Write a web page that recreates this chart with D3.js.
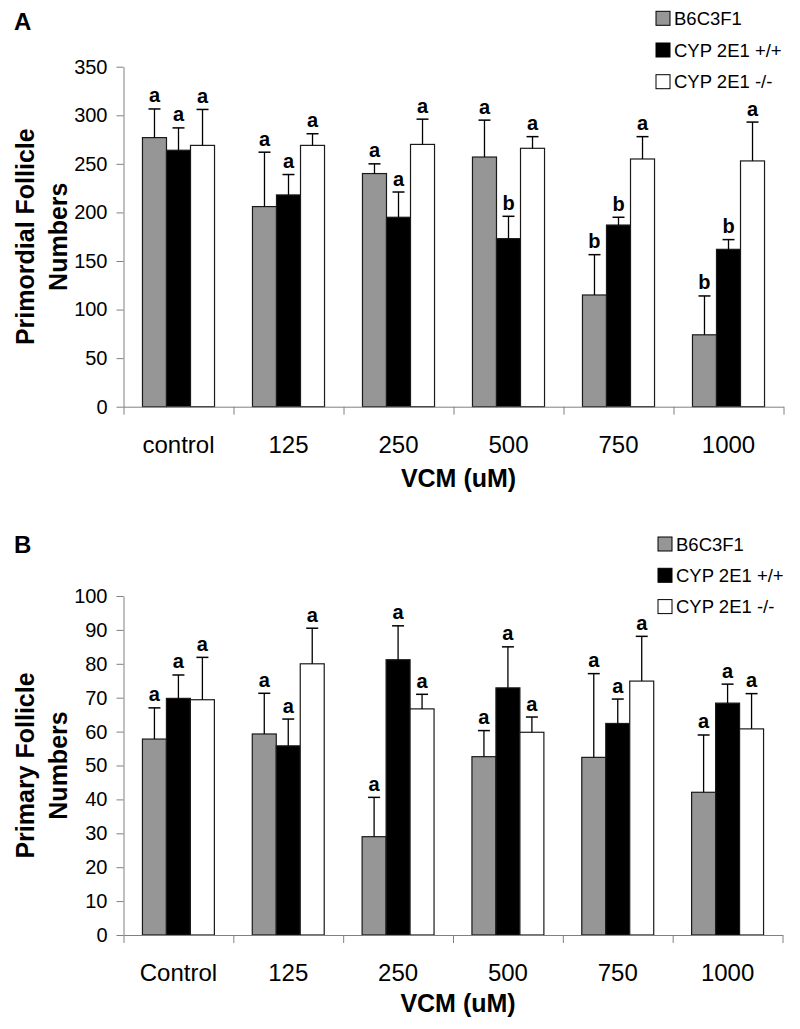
<!DOCTYPE html>
<html>
<head>
<meta charset="utf-8">
<script src="https://cdn.jsdelivr.net/npm/d3@7"></script>
<style>
  body { margin: 0; background: #fff; }
  svg text { font-family: "Liberation Sans", Arial, sans-serif; }
</style>
</head>
<body>
<div id="chart"></div>
<script>
// ---- data ----
var strains = ["B6C3F1", "CYP 2E1 +/+", "CYP 2E1 -/-"];

var dosesA = ["control", "125", "250", "500", "750", "1000"];
var primordialB6 = [277, 206, 240, 257, 115, 74];
var primordialWT = [264, 218, 195, 173, 187, 162];
var primordialKO = [269, 269, 270, 266, 255, 253];
var primordialB6Sd = [29.5, 56, 10, 38, 41.5, 40];
var primordialWTSd = [23, 21, 26, 23, 8, 10];
var primordialKOSd = [37, 12, 26, 12, 23, 40];
var primordialB6Sig = ["a", "a", "a", "a", "b", "b"];
var primordialWTSig = ["a", "a", "a", "b", "b", "b"];
var primordialKOSig = ["a", "a", "a", "a", "a", "a"];
var primordialTicks = [0, 50, 100, 150, 200, 250, 300, 350];

var dosesB = ["Control", "125", "250", "500", "750", "1000"];
var primaryB6 = [57.8, 59.3, 29, 52.6, 52.4, 42.1];
var primaryWT = [69.8, 55.8, 81.2, 72.9, 62.4, 68.4];
var primaryKO = [69.4, 80, 66.7, 59.8, 74.9, 60.8];
var primaryB6Sd = [9.2, 12, 11.6, 7.7, 24.7, 16.9];
var primaryWTSd = [6.9, 7.9, 10, 12.1, 7.2, 5.6];
var primaryKOSd = [12.5, 10.5, 4.3, 4.5, 13.2, 10.4];
var primaryB6Sig = ["a", "a", "a", "a", "a", "a"];
var primaryWTSig = ["a", "a", "a", "a", "a", "a"];
var primaryKOSig = ["a", "a", "a", "a", "a", "a"];
var primaryTicks = [0, 10, 20, 30, 40, 50, 60, 70, 80, 90, 100];

var fills = ["#969696", "#000000", "#ffffff"];

var svg = d3.select("#chart").append("svg")
    .attr("width", 800)
    .attr("height", 1029);

function drawPanel(p) {
    var g = svg.append("g");

    var x = d3.scaleBand().domain(p.doses).range([p.left, p.right]).padding(0);
    var bw = x.bandwidth();
    var groupW = bw * 0.655;
    var xs = d3.scaleBand().domain(strains)
        .range([(bw - groupW) / 2, (bw + groupW) / 2]).padding(0);
    var y = d3.scaleLinear().domain([0, p.ticks[p.ticks.length - 1]])
        .range([p.bottom, p.top]);

    // y axis
    var ya = g.append("g")
        .attr("transform", "translate(" + p.left + ",0)")
        .call(d3.axisLeft(y).tickValues(p.ticks).tickSize(7).tickSizeOuter(0).tickPadding(9));
    ya.select(".domain").attr("stroke", "#808080");
    ya.selectAll(".tick line").attr("stroke", "#808080");
    ya.selectAll(".tick text")
        .attr("font-size", 20)
        .attr("fill", "#000")
        .attr("font-family", "Liberation Sans, Arial, sans-serif");

    // bars
    var rows = p.doses.map(function(d, i) {
        return p.series.map(function(s, j) {
            return { dose: d, strain: strains[j], v: s.mean[i], sd: s.sd[i], sig: s.sig[i], k: j };
        });
    });
    var grp = g.selectAll("g.grp").data(rows).enter().append("g")
        .attr("class", "grp")
        .attr("transform", function(r) { return "translate(" + x(r[0].dose) + ",0)"; });

    grp.selectAll("rect").data(function(r) { return r; }).enter().append("rect")
        .attr("x", function(d) { return xs(d.strain); })
        .attr("y", function(d) { return y(d.v); })
        .attr("width", xs.bandwidth())
        .attr("height", function(d) { return y(0) - y(d.v); })
        .attr("fill", function(d) { return fills[d.k]; })
        .attr("stroke", "#1a1a1a")
        .attr("stroke-width", 1.2);

    // error bars (upper only)
    var eb = grp.selectAll("g.err").data(function(r) { return r; }).enter().append("g")
        .attr("class", "err");
    eb.append("line")
        .attr("x1", function(d) { return xs(d.strain) + xs.bandwidth() / 2; })
        .attr("x2", function(d) { return xs(d.strain) + xs.bandwidth() / 2; })
        .attr("y1", function(d) { return y(d.v); })
        .attr("y2", function(d) { return y(d.v + d.sd); })
        .attr("stroke", "#000").attr("stroke-width", 1.3);
    eb.append("line")
        .attr("x1", function(d) { return xs(d.strain) + xs.bandwidth() / 2 - 6; })
        .attr("x2", function(d) { return xs(d.strain) + xs.bandwidth() / 2 + 6; })
        .attr("y1", function(d) { return y(d.v + d.sd); })
        .attr("y2", function(d) { return y(d.v + d.sd); })
        .attr("stroke", "#000").attr("stroke-width", 1.5);
    eb.append("text")
        .attr("x", function(d) { return xs(d.strain) + xs.bandwidth() / 2; })
        .attr("y", function(d) { return y(d.v + d.sd) - 6.5; })
        .attr("text-anchor", "middle")
        .attr("font-size", 20)
        .attr("font-weight", "bold")
        .text(function(d) { return d.sig; });

    // x axis: ticks at the category boundaries
    var xb = d3.scaleLinear().domain([0, p.doses.length]).range([p.left, p.right]);
    var xa = g.append("g")
        .attr("transform", "translate(0," + p.bottom + ")")
        .call(d3.axisBottom(xb).ticks(p.doses.length).tickSize(8).tickSizeOuter(0).tickFormat(""));
    xa.select(".domain").attr("stroke", "#808080");
    xa.selectAll(".tick line").attr("stroke", "#808080");

    g.selectAll("text.cat").data(p.doses).enter().append("text")
        .attr("class", "cat")
        .attr("x", function(d) { return x(d) + bw / 2; })
        .attr("y", p.bottom + 46)
        .attr("text-anchor", "middle")
        .attr("font-size", 24)
        .text(function(d) { return d; });

    // axis titles
    g.append("text")
        .attr("x", (p.left + p.right) / 2 + 5)
        .attr("y", p.bottom + p.titleOffset)
        .attr("text-anchor", "middle")
        .attr("font-size", 25)
        .attr("font-weight", "bold")
        .text("VCM (uM)");

    var yc = (p.top + p.bottom) / 2;
    var yt = g.append("text")
        .attr("transform", "translate(34," + yc + ") rotate(-90)")
        .attr("text-anchor", "middle")
        .attr("font-size", 25)
        .attr("font-weight", "bold");
    yt.append("tspan").attr("x", 0).attr("y", 0).text(p.yTitle[0]);
    yt.append("tspan").attr("x", 0).attr("y", 33).text(p.yTitle[1]);

    // panel letter
    g.append("text")
        .attr("x", 14).attr("y", p.letterY)
        .attr("font-size", 24)
        .attr("font-weight", "bold")
        .text(p.letter);

    // legend
    var lg = g.selectAll("g.leg").data(strains).enter().append("g")
        .attr("class", "leg")
        .attr("transform", function(d, i) {
            return "translate(" + p.legX + "," + (p.legY + i * p.legStep) + ")";
        });
    lg.append("rect")
        .attr("x", 0).attr("y", -7)
        .attr("width", 14).attr("height", 14)
        .attr("fill", function(d, i) { return fills[i]; })
        .attr("stroke", "#000").attr("stroke-width", 1);
    lg.append("text")
        .attr("x", 18).attr("y", 6.5)
        .attr("font-size", 18.5)
        .text(function(d) { return d; });
}

drawPanel({
    letter: "A", letterY: 30,
    doses: dosesA,
    series: [
        { mean: primordialB6, sd: primordialB6Sd, sig: primordialB6Sig },
        { mean: primordialWT, sd: primordialWTSd, sig: primordialWTSig },
        { mean: primordialKO, sd: primordialKOSd, sig: primordialKOSig }
    ],
    ticks: primordialTicks,
    left: 123.5, right: 783.5, top: 66.7, bottom: 406.7,
    titleOffset: 80,
    yTitle: ["Primordial Follicle", "Numbers"],
    legX: 656, legY: 18.3, legStep: 31.7
});

drawPanel({
    letter: "B", letterY: 553,
    doses: dosesB,
    series: [
        { mean: primaryB6, sd: primaryB6Sd, sig: primaryB6Sig },
        { mean: primaryWT, sd: primaryWTSd, sig: primaryWTSig },
        { mean: primaryKO, sd: primaryKOSd, sig: primaryKOSig }
    ],
    ticks: primaryTicks,
    left: 123.5, right: 782.5, top: 596, bottom: 935,
    titleOffset: 77,
    yTitle: ["Primary Follicle", "Numbers"],
    legX: 658, legY: 544, legStep: 31.3
});
</script>
</body>
</html>
